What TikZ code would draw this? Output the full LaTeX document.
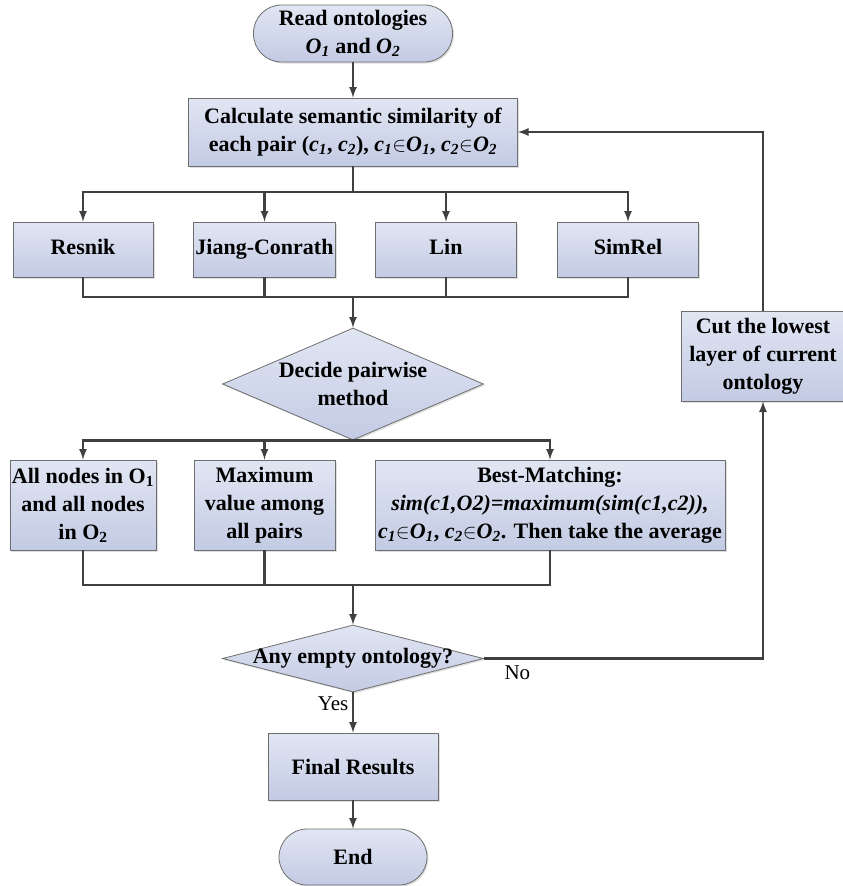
\documentclass[tikz,border=0pt]{standalone}
\usepackage{fontspec}
\setmainfont{Liberation Serif}
\usetikzlibrary{shapes,arrows,shadows}
\definecolor{boxtop}{HTML}{E1E6F3}
\definecolor{boxbot}{HTML}{C3CBE4}
\definecolor{boxedge}{HTML}{6E6E6E}
\definecolor{wirecol}{HTML}{404040}
\tikzset{%
  block/.style    = {draw=boxedge, line width=0.8pt, rectangle,
    top color=boxtop, bottom color=boxbot, align=center, inner sep=2pt,
    font=\bfseries\fontsize{22}{28}\selectfont,
    drop shadow={shadow xshift=1.5pt, shadow yshift=-1.5pt, opacity=0.25}},
  method/.style   = {block, minimum width=141pt, minimum height=55pt,
    text height=15pt, text depth=5pt}, % One-line measure
  term/.style     = {block, rounded corners=28pt}, % Start / end
  decision/.style = {block, diamond, inner sep=0pt}, % Test
  wire/.style     = {draw=wirecol, line width=2.6pt},
  flow/.style     = {wire, -latex},
  lbl/.style      = {font=\fontsize{21}{24}\selectfont, text=black}
}
\newcommand{\io}[2]{\textit{#1\textsubscript{#2}}}

\begin{document}
\begin{tikzpicture}[x=1pt, y=-1pt]
        \useasboundingbox (0,0) rectangle (843,886);
        \node [term, minimum width=199pt, minimum height=57pt] (read) at (353,33.5)
            {Read ontologies\\\io{O}{1} and \io{O}{2}};
        \node [block, minimum width=329pt, minimum height=68pt] (calc) at (353,132)
            {Calculate semantic similarity of\\each pair (\io{c}{1}, \io{c}{2}), \io{c}{1}$\in$\io{O}{1}, \io{c}{2}$\in$\io{O}{2}};
        \node [method, minimum width=140pt] (resnik) at (83,249.5) {Resnik};
        \node [method] (jiang) at (264.5,249.5) {Jiang-Conrath};
        \node [method] (lin) at (446,249.5) {Lin};
        \node [method] (simrel) at (628,249.5) {SimRel};
        \node [decision, aspect=2.3, minimum width=261pt, minimum height=112pt] (decide) at (353,384)
            {Decide pairwise\\method};
        \node [block, minimum width=140pt, minimum height=90pt] (allnodes) at (83,505)
            {All nodes in O\textsubscript{1}\\and all nodes\\in O\textsubscript{2}};
        \node [block, minimum width=141pt, minimum height=90pt] (maxval) at (264.5,505)
            {Maximum\\value among\\all pairs};
        \node [block, minimum width=350pt, minimum height=90pt] (best) at (550,505)
            {Best-Matching:\\\textit{sim(c1,O2)=maximum(sim(c1,c2)),}\\\io{c}{1}$\in$\io{O}{1}, \io{c}{2}$\in$\io{O}{2}. Then take the average};
        \node [decision, aspect=3.9, minimum width=261pt, minimum height=67pt] (empty) at (353,658.5)
            {\makebox[150pt]{Any empty ontology?}};
        \node [block, minimum width=170pt, minimum height=67pt] (final) at (353,766.5) {Final Results};
        \node [term, minimum width=148pt, minimum height=56pt] (finish) at (353,857) {End};
        \node [block, minimum width=164pt, minimum height=90pt] (cut) at (763,356)
            {Cut the lowest\\layer of current\\ontology};
        \coordinate (fork1) at (353,192);
        \coordinate (join1) at (353,297);
        \coordinate (join2) at (353,585);
        % connectors
        \draw[flow] (read) -- (calc);
        \draw[wire] (calc) -- (fork1);
        \foreach \n in {resnik,jiang,lin,simrel} \draw[flow] (fork1) -| (\n);
        \foreach \n in {resnik,jiang,lin,simrel} \draw[wire] (\n) |- (join1);
        \draw[flow] (join1) -- (decide);
        \foreach \n in {allnodes,maxval,best} \draw[flow] (decide.south) -| (\n);
        \foreach \n in {allnodes,maxval,best} \draw[wire] (\n) |- (join2);
        \draw[flow] (join2) -- (empty);
        \draw[flow] (empty) -- node[lbl, left, pos=0.28] {Yes} (final);
        \draw[flow] (final) -- (finish);
        \draw[flow] (empty) -| node[lbl, below=3pt, pos=0.06] {No} (cut);
        \draw[flow] (cut) |- (calc);
\end{tikzpicture}
\end{document}
